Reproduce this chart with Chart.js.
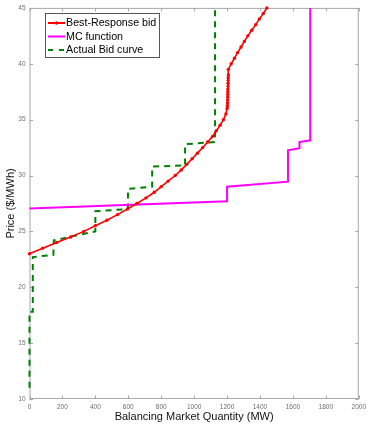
<!DOCTYPE html>
<html>
<head>
<meta charset="utf-8">
<script src="https://cdn.jsdelivr.net/npm/chart.js@4.4.1/dist/chart.umd.min.js"></script>
<style>
  html, body { margin: 0; padding: 0; background: #fff; }
  #wrap { width: 370px; height: 424px; position: relative; }
  canvas { display: block; }
</style>
</head>
<body>
<div id="wrap"><canvas id="chartBid" width="370" height="424"></canvas></div>
<script>
// Данные (MW, $/MWh)
const X_TICKS = [0, 200, 400, 600, 800, 1000, 1200, 1400, 1600, 1800, 2000];
const Y_TICKS = [10, 15, 20, 25, 30, 35, 40, 45];

const SERIES_NAMES = ['Best-Response bid', 'MC function', 'Actual Bid curve'];

// Best-Response bid
const brQty   = [0, 80, 165, 250, 330, 400, 470, 535, 595, 652, 708, 758, 800, 842, 885, 922,
                 955, 988, 1020, 1052, 1082, 1112, 1135, 1158, 1178, 1193, 1200,
                 1202, 1203, 1203, 1204, 1204, 1205, 1205, 1206, 1206, 1207, 1207, 1208, 1208,
                 1225, 1245, 1264, 1285, 1305, 1326, 1350, 1374, 1396, 1420, 1442];
const brPrice = [23.0, 23.5, 24.0, 24.5, 25.0, 25.5, 26.0, 26.5, 27.0, 27.5, 28.0, 28.5, 29.0, 29.5, 30.0, 30.5,
                 31.0, 31.5, 32.0, 32.5, 33.0, 33.5, 34.0, 34.5, 35.0, 35.5, 36.0,
                 36.25, 36.5, 36.75, 37.0, 37.25, 37.5, 37.75, 38.0, 38.25, 38.5, 38.75, 39.0, 39.5,
                 40.0, 40.5, 41.0, 41.5, 42.0, 42.5, 43.0, 43.5, 44.0, 44.5, 45.0];

// MC function
const mcQty   = [0, 1200, 1200, 1570, 1570, 1640, 1640, 1705, 1705];
const mcPrice = [27.05, 27.7, 29.0, 29.45, 32.25, 32.45, 33.0, 33.15, 45];

// Actual Bid curve
const actQty   = [0, 0, 20, 20, 145, 148, 400, 400, 598, 598, 745, 745, 945, 945, 1127, 1127];
const actPrice = [11.0, 17.8, 17.8, 22.7, 22.9, 24.2, 25.0, 26.8, 27.0, 28.8, 29.0, 30.8, 30.9, 32.8, 33.0, 45];

const COLORS = ['#ff0000', '#ff00ff', '#008000'];
const AXIS_COLOR = '#a8a8a8';

function toPoints(xs, ys) {
  return xs.map((x, i) => ({ x, y: ys[i] }));
}

// Рамка и внутренние засечки, как в MATLAB
const boxPlugin = {
  id: 'boxPlugin',
  beforeDatasetsDraw(chart) {
    const { ctx, chartArea: a, scales: { x, y } } = chart;
    ctx.save();
    ctx.strokeStyle = AXIS_COLOR;
    ctx.lineWidth = 1;
    ctx.strokeRect(a.left + 0.5, a.top + 0.5, a.right - a.left - 1, a.bottom - a.top - 1);
    ctx.beginPath();
    X_TICKS.forEach(v => {
      const px = Math.round(x.getPixelForValue(v)) + 0.5;
      ctx.moveTo(px, a.bottom); ctx.lineTo(px, a.bottom - 3.5);
      ctx.moveTo(px, a.top);    ctx.lineTo(px, a.top + 3.5);
    });
    Y_TICKS.forEach(v => {
      const py = Math.round(y.getPixelForValue(v)) + 0.5;
      ctx.moveTo(a.left, py);  ctx.lineTo(a.left + 3.5, py);
      ctx.moveTo(a.right, py); ctx.lineTo(a.right - 3.5, py);
    });
    ctx.stroke();
    ctx.restore();
  },
  afterDraw(chart) {
    drawLegend(chart);
  },
};

function drawLegend(chart) {
  const ctx = chart.ctx;
  const bx = 45.5, by = 13.5, bw = 114, bh = 44;
  ctx.save();
  ctx.fillStyle = '#fff';
  ctx.fillRect(bx, by, bw, bh);
  ctx.strokeStyle = '#555';
  ctx.lineWidth = 1;
  ctx.strokeRect(bx, by, bw, bh);

  const rows = [23, 36.5, 50];
  ctx.font = '10.7px "Liberation Sans", Arial, sans-serif';
  ctx.textBaseline = 'middle';
  SERIES_NAMES.forEach((name, i) => {
    const yy = rows[i];
    ctx.strokeStyle = COLORS[i];
    ctx.lineWidth = 2;
    ctx.setLineDash(i === 2 ? [5, 6] : []);
    ctx.beginPath();
    ctx.moveTo(48, yy);
    ctx.lineTo(65, yy);
    ctx.stroke();
    ctx.setLineDash([]);
    if (i === 0) {
      ctx.fillStyle = COLORS[0];
      ctx.beginPath();
      ctx.arc(56.5, yy, 1.8, 0, Math.PI * 2);
      ctx.fill();
    }
    ctx.fillStyle = '#000';
    ctx.fillText(name, 66, yy + 0.5);
  });
  ctx.restore();
}

function renderChart() {
  const ctx = document.getElementById('chartBid').getContext('2d');
  const tickFont = { family: '"Liberation Sans", Arial, sans-serif', size: 6.5 };
  const titleFont = { family: '"Liberation Sans", Arial, sans-serif', size: 11 };

  new Chart(ctx, {
    type: 'scatter',
    data: {
      datasets: [
        {
          label: SERIES_NAMES[0],
          data: toPoints(brQty, brPrice),
          showLine: true,
          borderColor: COLORS[0],
          backgroundColor: COLORS[0],
          borderWidth: 1.6,
          pointRadius: 1.7,
          pointBorderWidth: 0,
          pointHoverRadius: 0,
          clip: false,
        },
        {
          label: SERIES_NAMES[1],
          data: toPoints(mcQty, mcPrice),
          showLine: true,
          borderColor: COLORS[1],
          borderWidth: 2,
          pointRadius: 0,
          clip: false,
        },
        {
          label: SERIES_NAMES[2],
          data: toPoints(actQty, actPrice),
          showLine: true,
          borderColor: COLORS[2],
          borderWidth: 2,
          borderDash: [6, 5],
          pointRadius: 0,
          clip: false,
        },
      ],
    },
    options: {
      responsive: false,
      animation: false,
      events: [],
      layout: { padding: { top: 7, right: 7, left: 0, bottom: 0 } },
      plugins: {
        legend: { display: false },
        tooltip: { enabled: false },
      },
      scales: {
        x: {
          type: 'linear',
          min: 0,
          max: 2000,
          afterBuildTicks: s => { s.ticks = X_TICKS.map(v => ({ value: v })); },
          afterFit: s => { s.height = 25; },
          grid: { display: false, drawTicks: false },
          border: { display: false },
          ticks: { color: '#6e6e6e', font: tickFont, padding: 4, maxRotation: 0, callback: v => String(v) },
          title: {
            display: true,
            text: 'Balancing Market Quantity (MW)',
            color: '#111',
            font: titleFont,
            padding: { top: 0, bottom: 0 },
          },
        },
        y: {
          type: 'linear',
          min: 10,
          max: 45,
          afterBuildTicks: s => { s.ticks = Y_TICKS.map(v => ({ value: v })); },
          afterFit: s => { s.width = 29.5; },
          grid: { display: false, drawTicks: false },
          border: { display: false },
          ticks: { color: '#6e6e6e', font: tickFont, padding: 4, callback: v => String(v) },
          title: {
            display: true,
            text: 'Price ($/MWh)',
            color: '#111',
            font: titleFont,
            padding: { top: 4, bottom: 0 },
          },
        },
      },
    },
    plugins: [boxPlugin],
  });
}

renderChart();
</script>
</body>
</html>
